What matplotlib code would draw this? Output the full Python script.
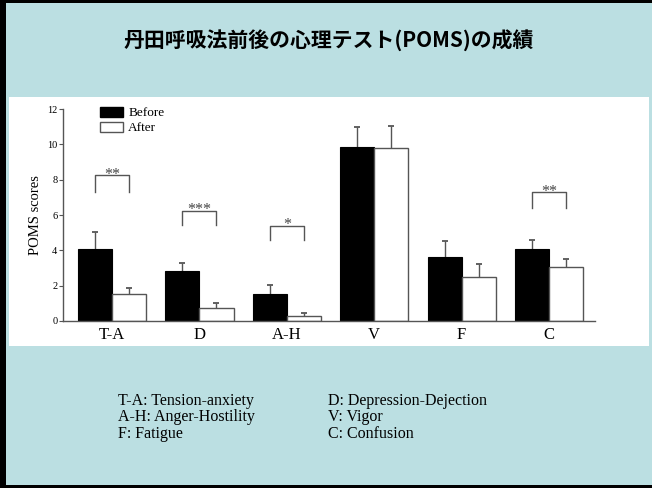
import matplotlib
matplotlib.use("Agg")
import matplotlib.pyplot as plt
from matplotlib.patches import Rectangle, Patch
import numpy as np

# ---- data ----
categories = ["T-A", "D", "A-H", "V", "F", "C"]
before = [4.1, 2.83, 1.51, 9.87, 3.64, 4.07]
before_err = [0.95, 0.43, 0.5, 1.13, 0.9, 0.51]
after = [1.51, 0.72, 0.3, 9.81, 2.51, 3.04]
after_err = [0.37, 0.32, 0.13, 1.22, 0.72, 0.47]
sig_groups = [0, 1, 2, 5]
sig_labels = ["**", "***", "*", "**"]
sig_top = [8.26, 6.24, 5.39, 7.28]
sig_leg = [7.32, 5.43, 4.58, 6.38]
yticks = [0, 2, 4, 6, 8, 10, 12]

title = "丹田呼吸法前後の心理テスト(POMS)の成績"
footer_left = ["T-A: Tension-anxiety", "A-H: Anger-Hostility", "F: Fatigue"]
footer_right = ["D: Depression-Dejection", "V: Vigor", "C: Confusion"]

W, H = 652, 488
bg = "#bbdfe2"

fig = plt.figure(figsize=(W / 100, H / 100), dpi=100)
fig.patch.set_facecolor(bg)

# white chart panel
fig.patches.append(Rectangle((9 / W, 1 - 346 / H), (649 - 9) / W, (346 - 97) / H,
                             transform=fig.transFigure, facecolor="white",
                             edgecolor="none", zorder=-2))
# border (left, top, bottom)
for (x0, y0, w, h) in [(0, 0, 6, H), (0, 0, W, 3), (0, H - 3, W, 3)]:
    fig.patches.append(Rectangle((x0 / W, 1 - (y0 + h) / H), w / W, h / H,
                                 transform=fig.transFigure, facecolor="black",
                                 edgecolor="none", zorder=5))

fig.text(329 / W, 1 - 40 / H, title, ha="center", va="center",
         fontsize=15, fontweight="bold",
         family=["Noto Sans CJK JP", "DejaVu Sans"], color="black")

serif = ["Liberation Serif", "DejaVu Serif"]
for i, (l, r) in enumerate(zip(footer_left, footer_right)):
    y = 1 - (401 + i * 16.3) / H
    fig.text(118 / W, y, l, ha="left", va="center", fontsize=11.5, family=serif)
    fig.text(328 / W, y, r, ha="left", va="center", fontsize=11.5, family=serif)

# axes
ax_left, ax_right = 63, 595
ax_top, ax_bot = 109, 321
ax = fig.add_axes([ax_left / W, 1 - ax_bot / H, (ax_right - ax_left) / W,
                   (ax_bot - ax_top) / H])
ax.set_zorder(3)
ax.set_facecolor("none")
x = np.arange(len(categories))
bw = 0.39
ecol = "#555555"
ax.bar(x - bw / 2, before, bw, color="black", edgecolor="black", linewidth=0.8,
       label="Before", zorder=2)
ax.bar(x + bw / 2, after, bw, color="white", edgecolor=ecol, linewidth=1.0,
       label="After", zorder=2)

# upward-only error bars
for xs, vals, errs in [(x - bw / 2, before, before_err), (x + bw / 2, after, after_err)]:
    tops = np.array(vals) + np.array(errs)
    ax.vlines(xs, vals, tops, colors=ecol, linewidth=1.0, zorder=1)
    ax.plot(xs, tops, linestyle="none", marker="_", markersize=4.5,
            markeredgewidth=1.3, color=ecol, zorder=1)

for g, lab, top, leg in zip(sig_groups, sig_labels, sig_top, sig_leg):
    x0, x1 = g - bw / 2, g + bw / 2
    ax.plot([x0, x0, x1, x1], [leg, top, top, leg], color=ecol, lw=1.0)
    ax.text(g, top - 0.2, lab, ha="center", va="baseline", fontsize=11.5,
            color="#444444", family=serif)

ax.set_xlim(-0.561, 5.526)
ax.set_ylim(0, 12)
ax.set_yticks(yticks)
ax.set_xticks(x)
ax.set_xticklabels(categories, family=serif, fontsize=12)
for t in ax.get_yticklabels():
    t.set_family(serif)
    t.set_fontsize(7.5)
ax.tick_params(axis="x", length=0, pad=4)
ax.tick_params(axis="y", length=3, width=0.8, color=ecol, pad=1)
ax.set_ylabel("POMS scores", family=serif, fontsize=10.5, labelpad=4)
for s in ["top", "right"]:
    ax.spines[s].set_visible(False)
for s in ["left", "bottom"]:
    ax.spines[s].set_color(ecol)
    ax.spines[s].set_linewidth(1.0)

handles = [Patch(facecolor="black", edgecolor="black"),
           Patch(facecolor="white", edgecolor=ecol)]
ax.legend(handles, ["Before", "After"], loc="upper left",
          bbox_to_anchor=((100 - ax_left) / (ax_right - ax_left), 1.01),
          frameon=False, prop={"family": serif, "size": 9.5},
          handlelength=1.75, handleheight=0.75, handletextpad=0.4,
          borderpad=0, borderaxespad=0, labelspacing=0.2)

fig.savefig("out.png", dpi=100, facecolor=fig.get_facecolor())
